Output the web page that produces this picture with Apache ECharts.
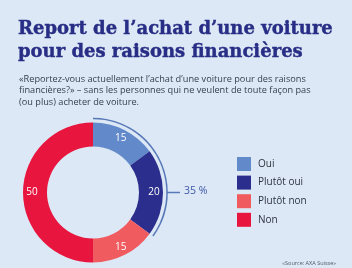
<!DOCTYPE html>
<html>
<head>
<meta charset="utf-8">
<script src="https://cdn.jsdelivr.net/npm/echarts@6/dist/echarts.min.js"></script>
<style>
  html, body { margin: 0; padding: 0; background: #dce8f5; }
  #chart { width: 352px; height: 268px; }
</style>
</head>
<body>
<div id="chart"></div>
<script>
// catégories et valeurs (%)
const categories = ['Oui', 'Plutôt oui', 'Plutôt non', 'Non'];
const values = [15, 20, 15, 50];
const colors = ['#6289c9', '#2b2e8c', '#f05b60', '#e8163f'];

const titleText = 'Report de l’achat d’une voiture\npour des raisons financières';
const subText = '«Reportez-vous actuellement l’achat d’une voiture pour des raisons\nfinancières?» – sans les personnes qui ne veulent de toute façon pas\n(ou plus) acheter de voiture.';
const sourceText = '«Source: AXA Suisse»';

// part "oui" cumulée (Oui + Plutôt oui)
const ouiTotal = values[0] + values[1];

const chart = echarts.init(document.getElementById('chart'));

const cx = 93, cy = 192.5;

chart.setOption({
    backgroundColor: '#dce8f5',
    animation: false,
    title: [
        {
            text: titleText,
            left: 13, top: 13,
            textStyle: {
                fontFamily: 'DejaVu Serif',
                fontWeight: 'bold',
                fontSize: 18,
                lineHeight: 23,
                color: '#282d85',
                textBorderColor: '#282d85',
                textBorderWidth: 0.4
            }
        },
        {
            text: subText,
            left: 14, top: 68,
            textStyle: {
                fontFamily: 'Open Sans',
                fontWeight: 'normal',
                fontSize: 9.2,
                lineHeight: 11.8,
                color: '#36414f'
            }
        },
        {
            text: sourceText,
            right: 11, top: 255,
            textStyle: {
                fontFamily: 'Open Sans',
                fontWeight: 'normal',
                fontSize: 5.5,
                color: '#4d5a6a'
            }
        }
    ],
    legend: {
        orient: 'vertical',
        left: 237, top: 157,
        padding: 0,
        itemWidth: 14, itemHeight: 14, itemGap: 4.6,
        icon: 'rect',
        data: categories,
        textStyle: { fontFamily: 'Open Sans', fontSize: 10, color: '#2e3440', padding: [0, 0, 0, 2] }
    },
    series: [
        {
            type: 'pie',
            center: [cx, cy],
            radius: [46, 70],
            startAngle: 90,
            clockwise: true,
            silent: true,
            label: {
                position: 'inside',
                formatter: '{c}',
                color: '#fff',
                fontFamily: 'Open Sans',
                fontSize: 10
            },
            labelLine: { show: false },
            data: categories.map((c, i) => ({ name: c, value: values[i], itemStyle: { color: colors[i] } }))
        },
        {
            // arc de regroupement "oui"
            type: 'pie',
            center: [cx, cy],
            radius: [73.3, 74.8],
            startAngle: 90,
            clockwise: true,
            silent: true,
            label: { show: false },
            labelLine: { show: false },
            data: [
                { name: 'groupe', value: ouiTotal, itemStyle: { color: '#5878b8' } },
                { name: 'reste', value: 100 - ouiTotal, itemStyle: { color: 'transparent' } }
            ]
        }
    ],
    graphic: [
        {
            type: 'line',
            shape: { x1: cx + 74, y1: cy, x2: cx + 87, y2: cy },
            style: { stroke: '#5878b8', lineWidth: 1.5 }
        },
        {
            type: 'text',
            left: cx + 91, top: cy - 7,
            style: {
                text: ouiTotal + ' %',
                fill: '#3d57a8',
                font: '10.5px "Open Sans"'
            }
        }
    ]
});
</script>
</body>
</html>
